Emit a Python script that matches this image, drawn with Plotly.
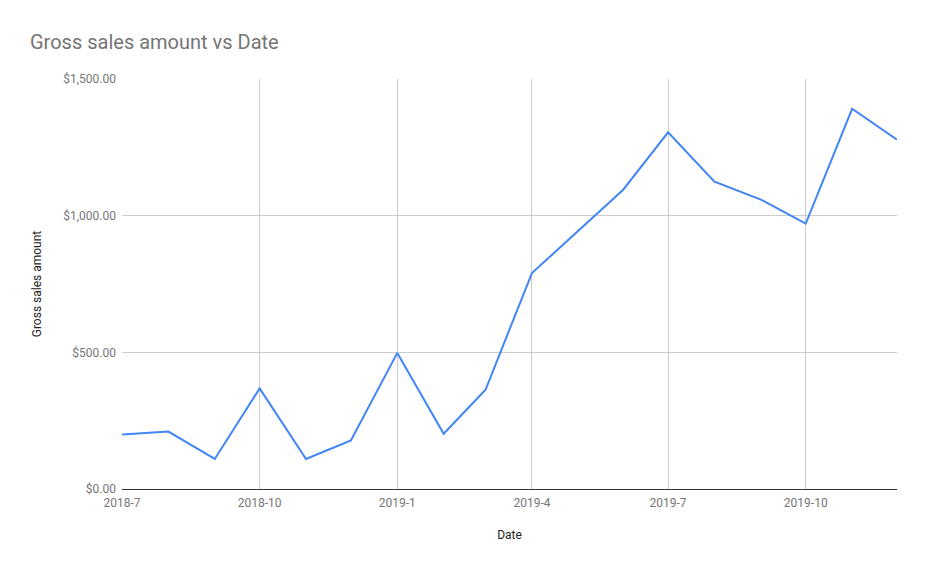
import plotly.graph_objects as go

dates = ["2018-07-01", "2018-08-01", "2018-09-01", "2018-10-01", "2018-11-01", "2018-12-01",
         "2019-01-01", "2019-02-01", "2019-03-01", "2019-04-01", "2019-06-01",
         "2019-07-01", "2019-08-01", "2019-09-01", "2019-10-01", "2019-11-01", "2019-12-01"]
gross_sales = [199, 210, 110, 368, 110, 178,
               498, 202, 363, 790, 1095,
               1305, 1124, 1059, 971, 1391, 1278]

W, H = 910, 556  # page body has an 8px margin

fig = go.Figure()
fig.add_trace(go.Scatter(
    x=dates, y=gross_sales, mode="lines",
    line=dict(color="#4285F4", width=2),
))

fig.update_layout(
    width=W, height=H,
    paper_bgcolor="white", plot_bgcolor="white",
    font=dict(family="Roboto", size=12, color="#616161"),
    margin=dict(l=114, r=21, t=71, b=75),
    showlegend=False,
    title=dict(text="Gross sales amount vs Date", x=22/W, xref="container", xanchor="left",
               y=1-34/H, yref="container", yanchor="middle",
               font=dict(family="Roboto", size=20, color="#757575")),
)
fig.update_xaxes(
    type="date", range=["2018-07-01", "2019-12-01"],
    tick0="2018-07-01", dtick="M3", tickformat="%Y-%-m",
    showgrid=True, gridcolor="#cccccc", gridwidth=1,
    showline=True, linecolor="#333333", linewidth=1,
    ticks="", tickfont=dict(size=12, color="#757575"), ticklabelstandoff=3,
    title=dict(text="Date", font=dict(size=12, color="#222222"), standoff=21),
    zeroline=False,
)
fig.update_yaxes(
    range=[0, 1500], dtick=500, tickformat="$,.2f",
    showgrid=True, gridcolor="#cccccc", gridwidth=1,
    zeroline=False, showline=False,
    ticks="", tickfont=dict(size=12, color="#757575"), ticklabelstandoff=5,
    title=dict(text="Gross sales amount", font=dict(size=12, color="#222222"), standoff=19),
)

fig.write_html("out.html")
